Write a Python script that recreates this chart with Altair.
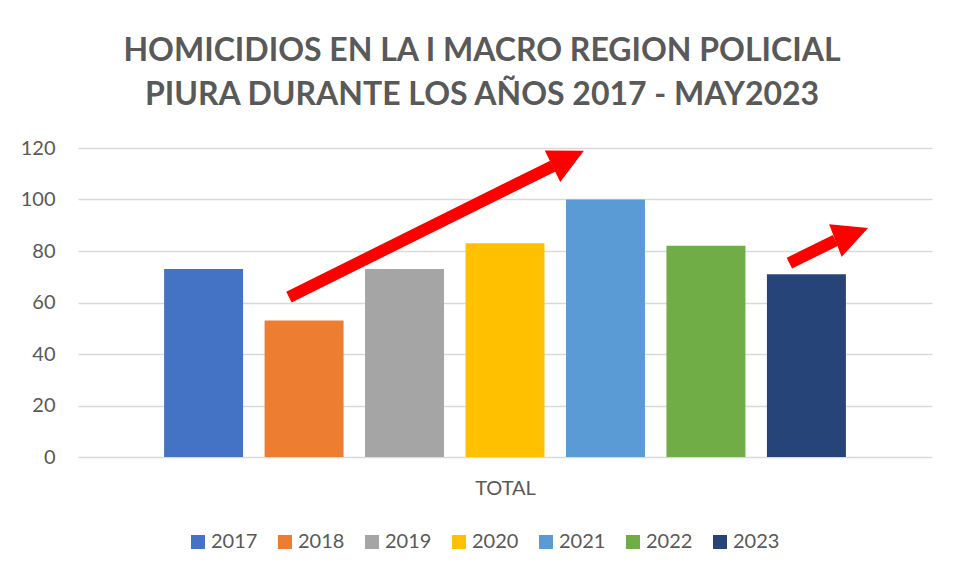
import altair as alt
import pandas as pd

# ---- data ----
years = ["2017", "2018", "2019", "2020", "2021", "2022", "2023"]
values = [73, 53, 73, 83, 100, 82, 71]
colors = ["#4472C4", "#ED7D31", "#A5A5A5", "#FFC000", "#5B9BD5", "#70AD47", "#264478"]

# arrow annotations (x in percent of plot width, y in value units)
arrow_x = [24.7, 83.3]
arrow_y = [62.1, 75.3]
arrow_x2 = [55.6, 88.7]
arrow_y2 = [113.0, 84.1]
head_x = [57.4, 90.6]
head_y = [115.9, 86.5]
head_angle = [333.7, 339.0]

FONT = "Lato"
GRAY = "#595959"

bars_df = pd.DataFrame({"year": years, "value": values, "cat": ["TOTAL"] * len(years)})
shaft_df = pd.DataFrame({"x": arrow_x, "y": arrow_y, "x2": arrow_x2, "y2": arrow_y2})
head_df = pd.DataFrame({"x": head_x, "y": head_y, "angle": head_angle})

yscale = alt.Scale(domain=[0, 120])
yaxis = alt.Axis(values=[0, 20, 40, 60, 80, 100, 120], ticks=False, domain=False,
                 labelFont=FONT, labelFontSize=20, labelColor=GRAY, labelPadding=23,
                 gridColor="#D9D9D9", gridWidth=1.5)

bars = alt.Chart(bars_df).mark_bar().encode(
    x=alt.X("year:N", title="TOTAL",
            scale=alt.Scale(paddingInner=0.214, paddingOuter=0.857),
            axis=alt.Axis(labels=False, ticks=False, domain=False, grid=False,
                          titleFont=FONT, titleFontSize=20, titleFontWeight="normal",
                          titleColor=GRAY, titlePadding=21)),
    y=alt.Y("value:Q", title=None, scale=yscale, axis=yaxis),
    color=alt.Color("year:N", scale=alt.Scale(domain=years, range=colors),
                    legend=alt.Legend(title=None, orient="none", direction="horizontal",
                                      columns=7, legendX=110, legendY=384,
                                      symbolType="square", symbolSize=196,
                                      symbolStrokeWidth=0, symbolOpacity=1,
                                      labelFont=FONT, labelFontSize=20, labelColor=GRAY,
                                      labelOffset=3, columnPadding=17, padding=0)),
)

xq = alt.Scale(domain=[0, 100])

shafts = alt.Chart(shaft_df).mark_rule(color="#FF0000", strokeWidth=12, strokeCap="butt").encode(
    x=alt.X("x:Q", scale=xq, axis=None),
    x2="x2:Q",
    y=alt.Y("y:Q", title=None, scale=yscale, axis=yaxis),
    y2="y2:Q",
)

heads = alt.Chart(head_df).mark_point(
    shape="M1,0L-1,-1L-1,1Z", filled=True, color="#FF0000", opacity=1, size=1225, strokeWidth=0
).encode(
    x=alt.X("x:Q", scale=xq, axis=None),
    y=alt.Y("y:Q", title=None, scale=yscale, axis=yaxis),
    angle=alt.Angle("angle:Q", scale=None),
)

chart = alt.layer(bars, shafts, heads).resolve_scale(x="independent").properties(
    width=854,
    height=309,
    autosize=alt.AutoSizeParams(type="none"),
    padding={"left": 70, "top": 140, "right": 21, "bottom": 113},
    view=alt.ViewBackground(stroke="transparent", strokeWidth=0),
    title=alt.Title(
        text=["HOMICIDIOS EN LA I MACRO REGION POLICIAL",
              "PIURA DURANTE LOS AÑOS 2017 - MAY2023"],
        font=FONT, fontSize=32, fontWeight="bold", color=GRAY,
        anchor="middle", offset=26, lineHeight=44, dx=-23,
    ),
).configure_view(stroke="transparent", strokeWidth=0
).configure_axis(domain=False).configure(background="white")

chart.save("out.html", embed_options={"renderer": "svg", "actions": False})
